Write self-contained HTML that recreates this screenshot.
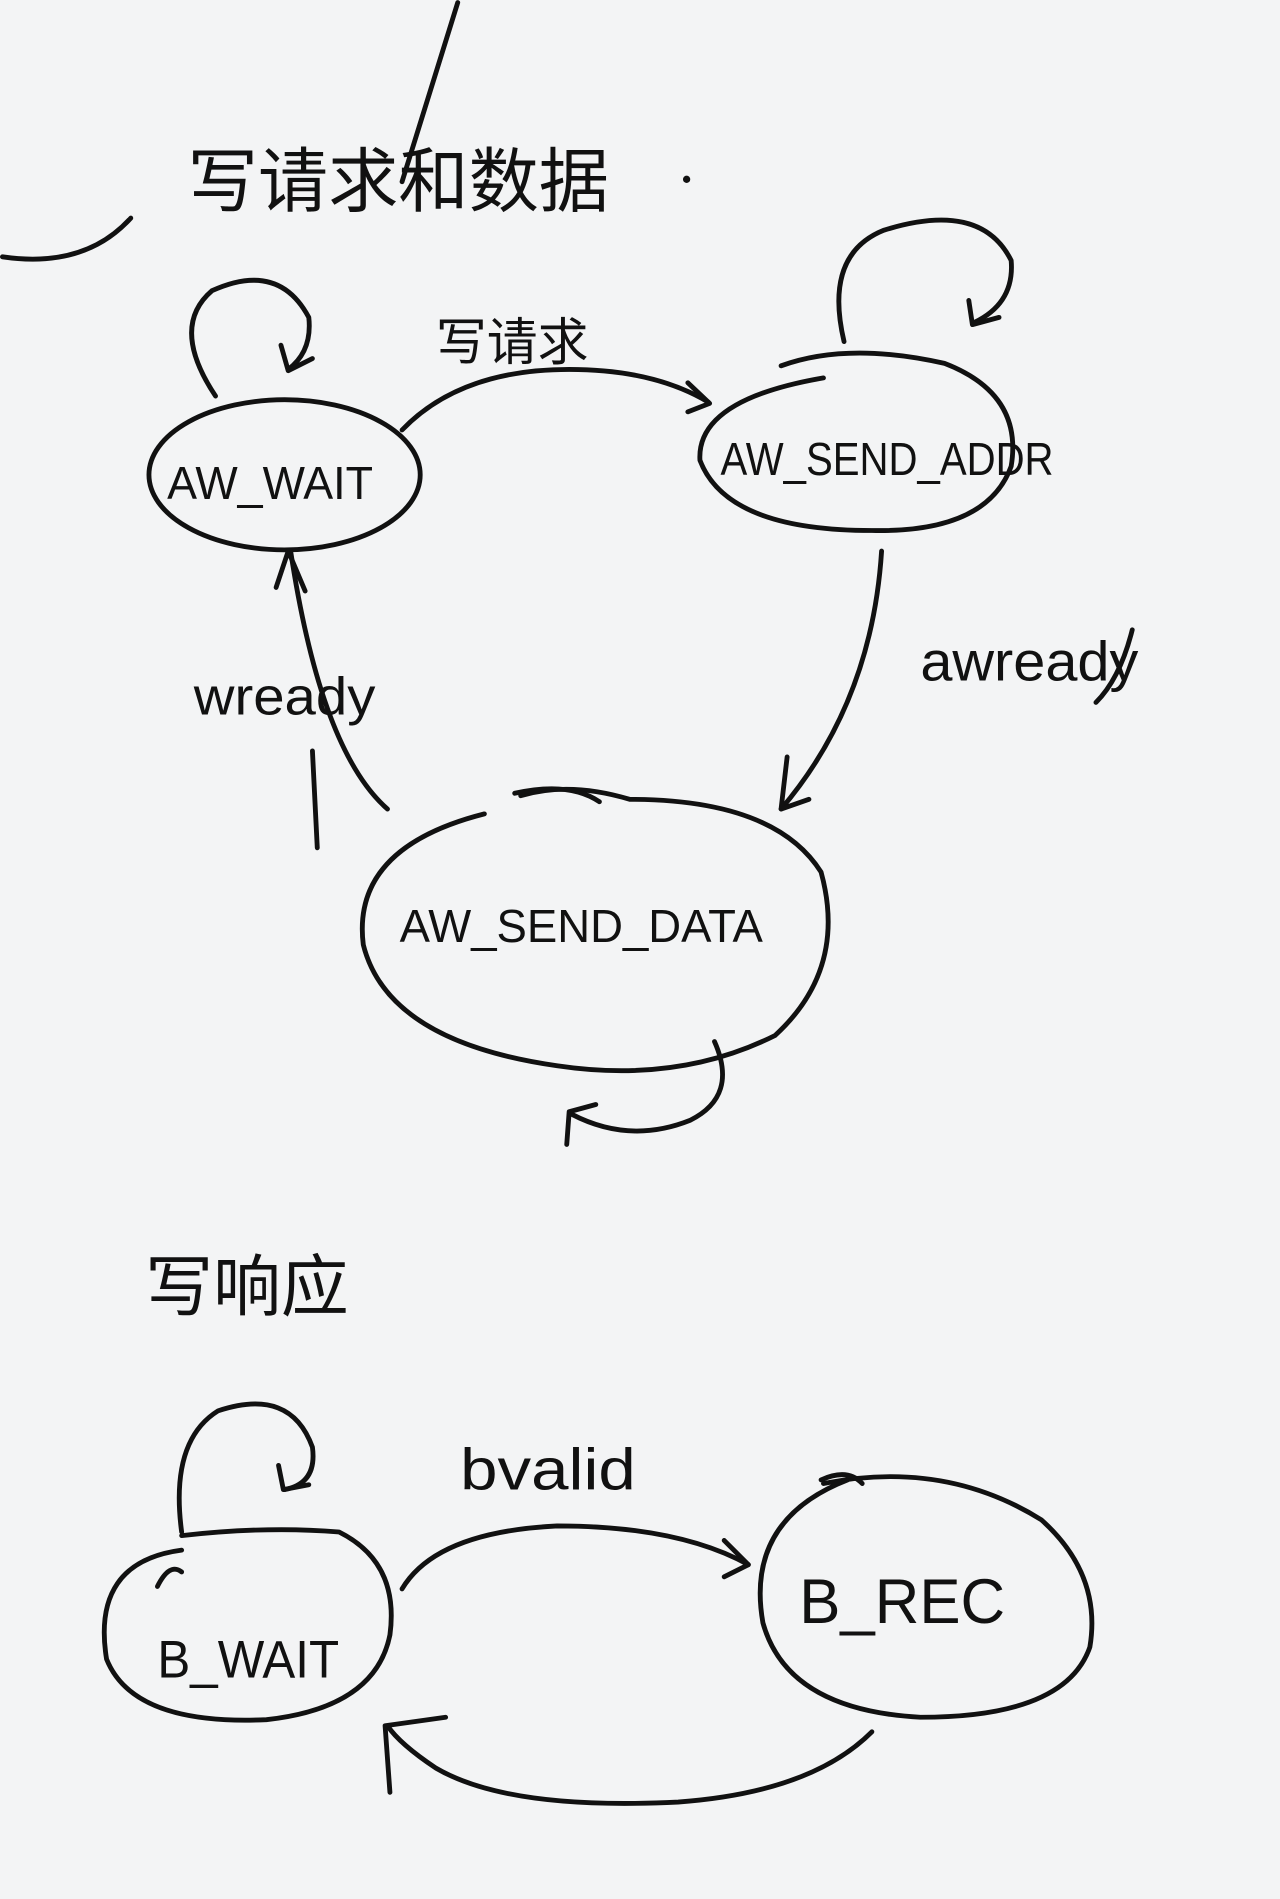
<!DOCTYPE html>
<html><head><meta charset="utf-8"><style>
html,body{margin:0;padding:0;background:#f3f4f5;}
svg{display:block;}
text{font-family:"Liberation Sans","Noto Sans CJK SC",sans-serif;fill:#111;}
</style></head><body>
<svg width="1280" height="1899" viewBox="0 0 1057 1568" xmlns="http://www.w3.org/2000/svg">
<rect width="1057" height="1568" fill="#f3f4f5"/>
<g fill="none" stroke="#111" stroke-width="4" stroke-linecap="round" stroke-linejoin="round">
<path d="M378 2 L332 150"/>
<path d="M2 212 Q70 222 108 180"/>
<!-- AW_WAIT -->
<ellipse cx="235" cy="392" rx="112" ry="62"/>
<path d="M178 327 Q140 270 175 240 Q230 215 255 262 Q258 290 238 305"/>
<path d="M232 285 L238 306 L258 296"/>
<!-- to AW_SEND_ADDR -->
<path d="M332 355 Q380 305 470 305 Q540 305 585 332"/>
<path d="M568 316 L586 333 L568 340"/>
<!-- AW_SEND_ADDR -->
<path d="M645 302 Q700 282 780 300 Q845 325 835 385 Q815 440 720 438 Q600 438 578 380 Q575 330 680 312"/>
<path d="M697 282 Q680 210 730 190 Q810 165 835 215 Q838 250 805 266"/>
<path d="M800 248 L803 268 L825 262"/>
<!-- awready -->
<path d="M728 455 Q720 580 645 668"/>
<path d="M650 625 L645 668 L668 660"/>
<path d="M905 580 Q925 560 935 520"/>
<!-- AW_SEND_DATA -->
<path d="M430 657 Q470 645 520 660 Q640 660 678 720 Q700 800 640 855 Q560 895 460 880 Q320 860 300 780 Q290 700 400 672"/>
<path d="M425 655 Q470 645 495 662"/>
<path d="M590 860 Q610 905 570 925 Q520 945 472 920"/>
<path d="M468 945 L470 918 L492 912"/>
<!-- wready -->
<path d="M320 668 Q265 620 240 455"/>
<path d="M228 485 L238 455 L252 488"/>
<path d="M258 620 L262 700"/>
<!-- B_WAIT -->
<path d="M150 1268 Q220 1260 280 1265 Q330 1290 322 1350 Q310 1410 220 1420 Q110 1425 88 1370 Q75 1290 150 1280"/>
<path d="M150 1265 Q140 1190 180 1165 Q240 1145 258 1195 Q262 1225 235 1230"/>
<path d="M230 1210 L234 1230 L255 1226"/>
<path d="M130 1310 Q140 1290 150 1298"/>
<!-- bvalid arrow -->
<path d="M332 1312 Q360 1265 460 1260 Q560 1260 618 1292"/>
<path d="M598 1272 L618 1292 L598 1302"/>
<!-- B_REC -->
<path d="M680 1225 Q780 1205 860 1255 Q910 1300 900 1360 Q880 1418 760 1418 Q650 1412 630 1340 Q615 1255 700 1222"/>
<path d="M678 1222 Q700 1212 712 1225"/>
<!-- return -->
<path d="M720 1430 Q670 1480 560 1488 Q420 1495 360 1460 Q330 1440 320 1425"/>
<path d="M322 1480 L318 1425 L368 1418"/>
</g>
<g font-size="48">
<text x="155" y="170" font-size="58">写请求和数据</text>
<circle cx="567" cy="148" r="3" fill="#111"/>
<text x="360" y="297" font-size="42">写请求</text>
<text x="120" y="1082" font-size="56">写响应</text>
</g>
<g font-size="38">
<text x="138" y="412" textLength="170" lengthAdjust="spacingAndGlyphs">AW_WAIT</text>
<text x="595" y="392" textLength="275" lengthAdjust="spacingAndGlyphs">AW_SEND_ADDR</text>
<text x="330" y="778" textLength="300" lengthAdjust="spacingAndGlyphs">AW_SEND_DATA</text>
<text x="760" y="562" font-size="46" textLength="180" lengthAdjust="spacingAndGlyphs">awready</text>
<text x="160" y="590" font-size="44" textLength="150" lengthAdjust="spacingAndGlyphs">wready</text>
<text x="380" y="1230" font-size="48" textLength="145" lengthAdjust="spacingAndGlyphs">bvalid</text>
<text x="130" y="1385" font-size="44" textLength="150" lengthAdjust="spacingAndGlyphs">B_WAIT</text>
<text x="660" y="1340" font-size="52" textLength="170" lengthAdjust="spacingAndGlyphs">B_REC</text>
</g>
</svg>
</body></html>
